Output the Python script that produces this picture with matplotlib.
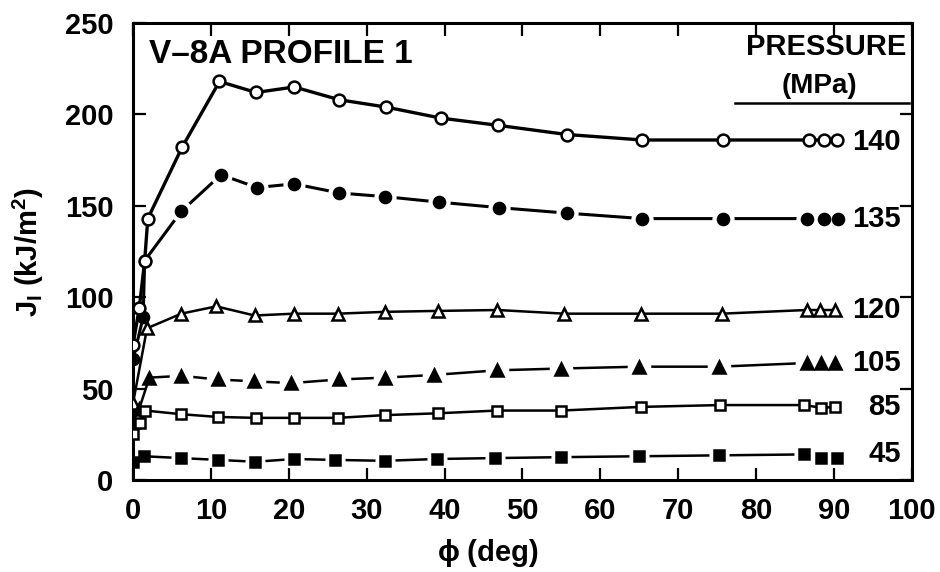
import matplotlib
matplotlib.use('Agg')
import matplotlib.pyplot as plt

plt.rcParams['font.family'] = ['Liberation Sans', 'DejaVu Sans']
plt.rcParams['font.weight'] = 'bold'
plt.rcParams['axes.labelweight'] = 'bold'
plt.rcParams['mathtext.default'] = 'regular'

# pressure (MPa) of each curve
pressures = ['140', '135', '120', '105', '85', '45']

# phi (deg) and J_I (kJ/m^2)
phi_140 = [0, 0.8, 1.5, 1.9, 6.3, 11.1, 15.8, 20.7, 26.5, 32.5, 39.5, 46.9, 55.7, 65.4, 75.8, 86.8, 88.7, 90.4]
j_140 = [74, 94, 120, 143, 182, 218, 212, 215, 208, 204, 198, 194, 189, 186, 186, 186, 186, 186]

phi_135 = [0, 1.3, 1.5, 6.2, 11.3, 15.9, 20.7, 26.5, 32.4, 39.3, 47.0, 55.7, 65.4, 75.7, 86.6, 88.7, 90.5]
j_135 = [66, 89, 120, 147, 167, 160, 162, 157, 155, 152, 149, 146, 143, 143, 143, 143, 143]

phi_120 = [0, 1.8, 6.2, 10.7, 15.6, 20.7, 26.3, 32.4, 39.1, 46.8, 55.4, 65.2, 75.6, 86.5, 88.2, 90.1]
j_120 = [42, 83, 91, 95, 90, 91, 91, 92, 92.5, 93, 91, 91, 91, 93, 93, 93]

phi_105 = [0, 0.8, 2.1, 6.2, 10.9, 15.5, 20.3, 26.4, 32.3, 38.7, 46.7, 55.0, 65.0, 75.2, 86.5, 88.4, 90.1]
j_105 = [32, 39, 56, 57, 55, 54, 53, 55, 56, 57.5, 60, 61, 62, 62, 64, 64, 64]

phi_85 = [0, 0.9, 1.6, 6.2, 10.9, 15.8, 20.7, 26.3, 32.3, 39.2, 46.7, 55.0, 65.2, 75.4, 86.2, 88.4, 90.2]
j_85 = [25, 31, 38, 36, 34.5, 34, 34, 34, 35.5, 36.5, 38, 38, 40, 41, 41, 39.5, 40]

phi_45 = [0, 1.4, 6.2, 10.9, 15.7, 20.7, 26.0, 32.3, 39.0, 46.5, 54.9, 65.0, 75.3, 86.1, 88.4, 90.4]
j_45 = [10, 13, 12, 11, 10, 11.5, 11, 10.5, 11.5, 12, 12.5, 13, 13.5, 14, 12, 12]

x_ticks = [0, 10, 20, 30, 40, 50, 60, 70, 80, 90, 100]
y_ticks = [0, 50, 100, 150, 200, 250]

fig = plt.figure(figsize=(9.4, 5.72), dpi=100)
ax = fig.add_axes([0.1415, 0.1608, 0.8285, 0.799])

# (phi, J, marker, filled, dashed, line width, marker size)
series = [
    (phi_135, j_135, 'o', True, True, 2.2, 8),
    (phi_140, j_140, 'o', False, False, 2.4, 8.5),
    (phi_120, j_120, '^', False, False, 1.8, 9),
    (phi_105, j_105, '^', True, True, 1.8, 9),
    (phi_85, j_85, 's', False, False, 1.8, 7.5),
    (phi_45, j_45, 's', True, True, 1.8, 6.5),
]

for phi, j, mk, filled, dashed, lw, ms in series:
    ax.plot(phi, j, color='black', lw=lw, zorder=2)
    if dashed:
        # white gaps around the markers give the broken-line look
        hx = [p for p in phi if p > 3]
        hy = [v for p, v in zip(phi, j) if p > 3]
        ax.plot(hx, hy, linestyle='none', marker='o', ms=ms + 7,
                mfc='white', mec='white', zorder=3)
    ax.plot(phi, j, linestyle='none', marker=mk, ms=ms,
            mfc='black' if filled else 'white', mec='black', mew=1.8, zorder=4)

# pressure labels at the right end of each curve
labels_y = {'140': j_140[-1] - 1, '135': j_135[-1], '120': j_120[-1],
            '105': j_105[-1], '85': j_85[-1], '45': j_45[-1] + 2}
for lab in pressures:
    ax.text(98.6, labels_y[lab], lab, ha='right', va='center', fontsize=21, zorder=5)

ax.text(2.0, 233, 'V\u20138A PROFILE 1', fontsize=24, va='center', ha='left')
ax.text(99.3, 237, 'PRESSURE', fontsize=21, ha='right', va='center')
ax.text(88.2, 215.5, '(MPa)', fontsize=20, ha='center', va='center')
ax.axhline(206, xmin=0.773, xmax=0.996, color='black', lw=1.8)

ax.set_xlim(0, 100)
ax.set_ylim(0, 250)
ax.set_xticks(x_ticks)
ax.set_yticks(y_ticks)
ax.tick_params(direction='in', length=9, width=1.6, labelsize=21, top=True, right=True, pad=12)
ax.tick_params(axis='y', pad=14)
for s in ax.spines.values():
    s.set_linewidth(2.2)

ax.set_xlabel(r'$\phi$ (deg)', fontsize=21, fontweight='bold')
ax.xaxis.set_label_coords(0.456, -0.125)
fig.text(0.03, 0.56, r'$J_I$ (kJ/m$^2$)', rotation=90, fontsize=21, ha='center', va='center')

fig.savefig('out.png', dpi=100)
